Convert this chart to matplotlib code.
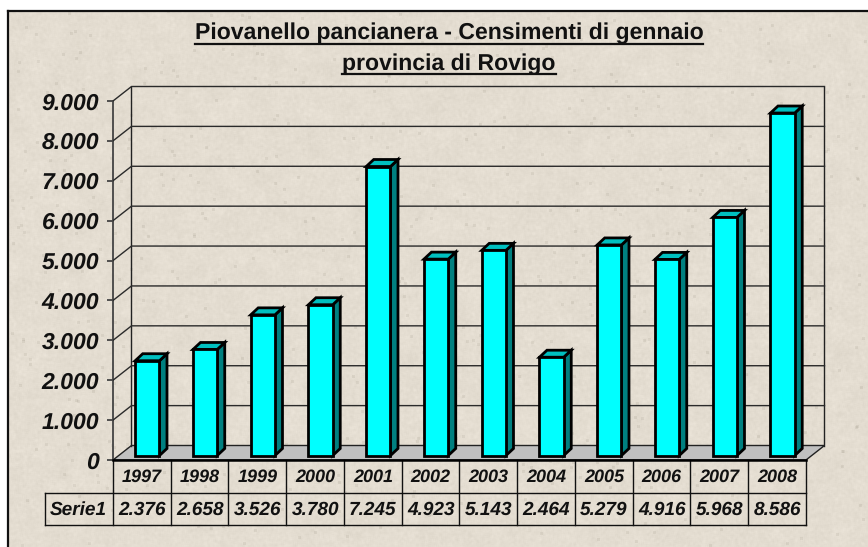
import matplotlib
matplotlib.use('Agg')
import matplotlib.pyplot as plt
from matplotlib.patches import Polygon
import numpy as np

# dati
anni = ['1997', '1998', '1999', '2000', '2001', '2002', '2003', '2004', '2005', '2006', '2007', '2008']
valori = [2376, 2658, 3526, 3780, 7245, 4923, 5143, 2464, 5279, 4916, 5968, 8586]
etichette_valori = ['2.376', '2.658', '3.526', '3.780', '7.245', '4.923', '5.143', '2.464', '5.279', '4.916', '5.968', '8.586']
tick_y = [0, 1000, 2000, 3000, 4000, 5000, 6000, 7000, 8000, 9000]
tick_lab = ['0', '1.000', '2.000', '3.000', '4.000', '5.000', '6.000', '7.000', '8.000', '9.000']
titolo = ['Piovanello pancianera - Censimenti di gennaio', 'provincia di Rovigo']
serie = 'Serie1'

W, H = 868, 547
plt.rcParams['font.family'] = ['Liberation Sans', 'DejaVu Sans']
plt.rcParams['text.hinting'] = 'no_hinting'
plt.rcParams['text.hinting_factor'] = 1
fig = plt.figure(figsize=(W / 100, H / 100), dpi=100)


def sfoca(a, n):
    k = np.ones(n) / n
    a = np.apply_along_axis(lambda r: np.convolve(r, k, mode='same'), 0, a)
    return np.apply_along_axis(lambda r: np.convolve(r, k, mode='same'), 1, a)


# sfondo carta con puntini
rng = np.random.default_rng(3)
grana = sfoca(rng.normal(size=(H, W)), 3) * 5
macchie = sfoca(rng.normal(size=(H, W)), 17) * 20
punti = sfoca((rng.random((H, W)) > 0.9985) * 1.0, 3) * -110
luce = grana + macchie + punti
sfondo = np.stack([228 + luce, 221 + luce, 209 + luce * 1.05], axis=2)
sfondo = np.clip(sfondo, 0, 255).astype(np.uint8)
sfondo[:11, :] = 255
sfondo[:, :8] = 255

bg = fig.add_axes([0, 0, 1, 1])
bg.imshow(sfondo, extent=(0, W, H, 0), aspect='auto', interpolation='bilinear')
bg.set_xlim(0, W)
bg.set_ylim(H, 0)
bg.axis('off')
bg.plot([8, W], [11, 11], color='#111111', lw=1.6)
bg.plot([8, 8], [11, H], color='#111111', lw=1.6)

# assi: la faccia anteriore va da x=113 a 806 e da y=460 a 101
x0, x1, y0, y1 = 113, 806, 460, 101
ax = fig.add_axes([x0 / W, 1 - y0 / H, (x1 - x0) / W, (y0 - y1) / H])
ax.patch.set_alpha(0)
ax.set_xlim(0, len(anni))
ax.set_ylim(0, 9000)
for s in ax.spines.values():
    s.set_visible(False)
ax.set_xticks([])
ax.set_yticks(tick_y)
ax.set_yticklabels(tick_lab, fontsize=16.4, fontweight='bold', fontstyle='italic', color='#111111')
ax.tick_params(axis='y', length=4, width=1.3, color='#444444', pad=6)

px_x = len(anni) / (x1 - x0)
px_y = 9000 / (y0 - y1)
dx, dy = 18.5 * px_x, 14.5 * px_y  # profondita pareti
bdx, bdy = 7.5 * px_x, 7 * px_y  # profondita barre
base = 4.5 * px_y
larg = 0.42
sh = 0.095

# pavimento e pareti
n = len(anni)
ax.add_patch(Polygon([(0, 0), (n, 0), (n + dx, dy), (dx, dy)], fc='#C0C0C0', ec='#222222', lw=1, clip_on=False, zorder=1))
ax.plot([dx, dx], [dy, 9000 + dy], color='#222222', lw=1, clip_on=False, zorder=1)
ax.plot([n + dx, n + dx], [dy, 9000 + dy], color='#222222', lw=1, clip_on=False, zorder=1)
ax.plot([0, 0], [0, 9000], color='#444444', lw=1.3, clip_on=False, zorder=1)
for t in tick_y[1:]:
    ax.plot([0, dx, n + dx], [t, t + dy, t + dy], color='#2a2a2a', lw=1, clip_on=False, zorder=1)

# barre 3D
pos = np.arange(n) + 0.5 + sh
ax.bar(pos, valori, width=larg, bottom=base, color='#00FFFF', edgecolor='black', linewidth=2, zorder=3, clip_on=False)
for p, v in zip(pos, valori):
    l, r = p - larg / 2, p + larg / 2
    top = v + base
    ax.add_patch(Polygon([(r, base), (r + bdx, base + bdy), (r + bdx, top + bdy), (r, top)],
                         fc='#008080', ec='black', lw=2, zorder=2, clip_on=False))
    ax.add_patch(Polygon([(l, top), (l + bdx, top + bdy), (r + bdx, top + bdy), (r, top)],
                         fc='#00C0C0', ec='black', lw=2, zorder=2, clip_on=False))

# tabella dati
riga1, riga2 = -33 * px_y, -65 * px_y
sin = -(x0 - 44.5) * px_x
ax.plot([0, n], [0, 0], color='black', lw=1.8, clip_on=False, zorder=4)
ax.plot([sin, sin], [riga1, riga2], color='#111111', lw=1, clip_on=False)
ax.plot([sin, n], [riga1, riga1], color='#111111', lw=1, clip_on=False)
ax.plot([sin, n], [riga2, riga2], color='#111111', lw=1, clip_on=False)
for i in range(n + 1):
    ax.plot([i, i], [0, riga2], color='#111111', lw=1, clip_on=False)
stile = dict(fontweight='bold', fontstyle='italic', color='#111111', ha='center', va='center', clip_on=False)
for i in range(n):
    ax.text(i + 0.5, riga1 / 2 - 1 * px_y, anni[i], fontsize=12.7, **stile)
    ax.text(i + 0.5, (riga1 + riga2) / 2 - 1 * px_y, etichette_valori[i], fontsize=13.4, **stile)
ax.text(sin / 2, (riga1 + riga2) / 2 - 1 * px_y, serie, fontsize=13.4, **stile)

# titolo sottolineato
fig.canvas.draw()
rend = fig.canvas.get_renderer()
for testo, yb, yu in zip(titolo, [39, 70], [43.5, 74]):
    t = bg.text(449, yb, testo, fontsize=16.8, fontweight='bold', color='#111111', ha='center', va='baseline')
    e = t.get_window_extent(rend)
    bg.plot([e.x0, e.x1], [yu, yu], color='#111111', lw=1.6)

bg.set_xlim(0, W)
bg.set_ylim(H, 0)
fig.savefig('out.png', dpi=100)
